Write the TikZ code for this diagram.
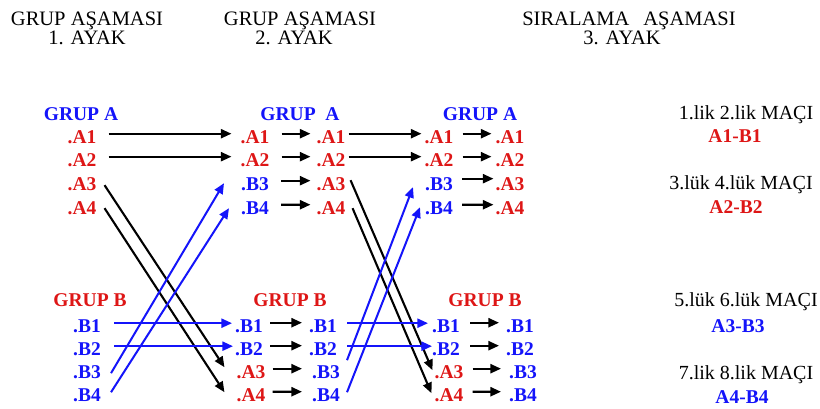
\documentclass[tikz,border=0pt]{standalone}
\usepackage{fontspec}
\setmainfont{Liberation Serif}
\usetikzlibrary{arrows.meta}
\definecolor{tred}{RGB}{222,22,22}
\definecolor{tblue}{RGB}{20,20,250}
\begin{document}
\begin{tikzpicture}[x=1pt,y=-1pt,
  lbl/.style={inner sep=0pt, anchor=base, font=\fontsize{19.5}{22}\selectfont\bfseries},
  ra/.style={lbl, text=tred},
  ba/.style={lbl, text=tblue},
  hdr/.style={inner sep=0pt, anchor=base, font=\fontsize{20.5}{24}\selectfont},
  mac/.style={inner sep=0pt, anchor=base, font=\fontsize{20}{24}\selectfont},
  karr/.style={draw=black, line width=2.1pt, -{Triangle[length=10.5pt,width=9pt]}},
  barr/.style={draw=tblue, line width=2pt, -{Triangle[length=10.5pt,width=9pt]}},
]
\useasboundingbox[fill=white] (0,0) rectangle (820,409);
% headers
\node[hdr] (h1) at (87,26) {GRUP AŞAMASI};
\node[hdr] (h1b) at (87,45) {1. AYAK};
\node[hdr] (h2) at (300,26) {GRUP AŞAMASI};
\node[hdr] (h2b) at (294,45) {2. AYAK};
\node[hdr] (h3) at (629,26) {SIRALAMA\hspace{14pt}AŞAMASI};
\node[hdr] (h3b) at (622,45) {3. AYAK};
% column 1
\node[ba] (ga1) at (81,120.5) {GRUP A};
\node[ra] (a1) at (82,143.5) {.A1};
\node[ra] (a2) at (82,166.5) {.A2};
\node[ra] (a3) at (82,190.5) {.A3};
\node[ra] (a4) at (82,214.5) {.A4};
\node[ra] (gb1) at (90,306.5) {GRUP B};
\node[ba] (b1) at (87,332.5) {.B1};
\node[ba] (b2) at (87,355.5) {.B2};
\node[ba] (b3) at (87,378.5) {.B3};
\node[ba] (b4) at (87,401.5) {.B4};
% column 2
\node[ba] (ga2) at (300,120.5) {GRUP\ \ A};
\node[ra] (c2a1) at (255,143.5) {.A1};
\node[ra] (c2a2) at (255,166.5) {.A2};
\node[ba] (c2b3) at (255,190.5) {.B3};
\node[ba] (c2b4) at (255,214.5) {.B4};
\node[ra] (gb2) at (290,306.5) {GRUP B};
\node[ba] (c2b1) at (249,332.5) {.B1};
\node[ba] (c2b2) at (249,355.5) {.B2};
\node[ra] (c2a3) at (251,378.5) {.A3};
\node[ra] (c2a4) at (251,401.5) {.A4};
% column 3
\node[ra] (c3a1) at (331,143.5) {.A1};
\node[ra] (c3a2) at (331,166.5) {.A2};
\node[ra] (c3a3) at (331,190.5) {.A3};
\node[ra] (c3a4) at (331,214.5) {.A4};
\node[ba] (c3b1) at (323,332.5) {.B1};
\node[ba] (c3b2) at (323,355.5) {.B2};
\node[ba] (c3b3) at (326,378.5) {.B3};
\node[ba] (c3b4) at (326,401.5) {.B4};
% column 4
\node[ba] (ga4) at (480,120.5) {GRUP A};
\node[ra] (c4a1) at (439,143.5) {.A1};
\node[ra] (c4a2) at (439,166.5) {.A2};
\node[ba] (c4b3) at (439,190.5) {.B3};
\node[ba] (c4b4) at (439,214.5) {.B4};
\node[ra] (gb4) at (485,306.5) {GRUP B};
\node[ba] (c4b1) at (446,332.5) {.B1};
\node[ba] (c4b2) at (446,355.5) {.B2};
\node[ra] (c4a3) at (449,378.5) {.A3};
\node[ra] (c4a4) at (449,401.5) {.A4};
% column 5
\node[ra] (c5a1) at (510,143.5) {.A1};
\node[ra] (c5a2) at (510,166.5) {.A2};
\node[ra] (c5a3) at (510,190.5) {.A3};
\node[ra] (c5a4) at (510,214.5) {.A4};
\node[ba] (c5b1) at (520,332.5) {.B1};
\node[ba] (c5b2) at (520,355.5) {.B2};
\node[ba] (c5b3) at (523,378.5) {.B3};
\node[ba] (c5b4) at (523,401.5) {.B4};
% right labels
\node[mac] (m1) at (746,119.5) {1.lik 2.lik MAÇI};
\node[ra] (r1) at (735,142.5) {A1-B1};
\node[mac] (m2) at (741,189.5) {3.lük 4.lük MAÇI};
\node[ra] (r2) at (736,213.5) {A2-B2};
\node[mac] (m3) at (746,306.5) {5.lük 6.lük MAÇI};
\node[ba] (r3) at (738,332.5) {A3-B3};
\node[mac] (m4) at (746,379.5) {7.lik 8.lik MAÇI};
\node[ba] (r4) at (742,403.5) {A4-B4};
% col1 -> col2
\draw[karr, shorten <=12pt, shorten >=9pt] ([yshift=3.5pt]a1.east) -- ([yshift=3.5pt]c2a1.west);
\draw[karr, shorten <=12pt, shorten >=9pt] ([yshift=3.5pt]a2.east) -- ([yshift=3.5pt]c2a2.west);
\draw[karr] ([xshift=8pt,yshift=-1pt]a3.east) -- ([xshift=-12pt,yshift=5pt]c2a3.west);
\draw[karr] ([xshift=8pt]a4.east) -- ([xshift=-12pt,yshift=3pt]c2a4.west);
\draw[barr] ([xshift=10pt,yshift=-1pt]b3.east) -- ([xshift=-17pt,yshift=1pt]c2b3.west);
\draw[barr] ([xshift=10pt,yshift=3pt]b4.east) -- ([xshift=-12pt]c2b4.west);
\draw[barr, shorten <=13pt, shorten >=3pt] ([yshift=3pt]b1.east) -- ([yshift=3pt]c2b1.west);
\draw[barr, shorten <=13pt, shorten >=2pt] ([yshift=3pt]b2.east) -- ([yshift=3pt]c2b2.west);
% col2 -> col3
\draw[karr, shorten <=12pt, shorten >=6pt] ([yshift=3.5pt]c2a1.east) -- ([yshift=3.5pt]c3a1.west);
\draw[karr, shorten <=12pt, shorten >=6pt] ([yshift=3.5pt]c2a2.east) -- ([yshift=3.5pt]c3a2.west);
\draw[karr, shorten <=12pt, shorten >=6pt] ([yshift=3.5pt]c2b3.east) -- ([yshift=3.5pt]c3a3.west);
\draw[karr, shorten <=12pt, shorten >=6pt] ([yshift=3.5pt]c2b4.east) -- ([yshift=3.5pt]c3a4.west);
\draw[karr, shorten <=7pt, shorten >=7pt] ([yshift=3.5pt]c2b1.east) -- ([yshift=3.5pt]c3b1.west);
\draw[karr, shorten <=7pt, shorten >=7pt] ([yshift=3.5pt]c2b2.east) -- ([yshift=3.5pt]c3b2.west);
\draw[karr, shorten <=7pt, shorten >=10pt] ([yshift=3.5pt]c2a3.east) -- ([yshift=3.5pt]c3b3.west);
\draw[karr, shorten <=7pt, shorten >=10pt] ([yshift=3.5pt]c2a4.east) -- ([yshift=3.5pt]c3b4.west);
% col3 -> col4
\draw[karr, shorten <=3pt, shorten >=3pt] ([yshift=3.5pt]c3a1.east) -- ([yshift=3.5pt]c4a1.west);
\draw[karr, shorten <=3pt, shorten >=3pt] ([yshift=3.5pt]c3a2.east) -- ([yshift=3.5pt]c4a2.west);
\draw[karr] ([xshift=5pt,yshift=4pt]c3a3.east) -- ([xshift=-2pt,yshift=2pt]c4a3.west);
\draw[karr] ([xshift=7pt]c3a4.east) -- ([xshift=-3pt,yshift=2pt]c4a4.west);
\draw[barr] ([xshift=7pt,yshift=12pt]c3b3.east) -- ([xshift=-12pt,yshift=-3pt]c4b3.west);
\draw[barr] ([xshift=7pt,yshift=3pt]c3b4.east) -- ([xshift=-5pt,yshift=1pt]c4b4.west);
\draw[barr, shorten <=10pt, shorten >=4pt] ([yshift=3pt]c3b1.east) -- ([yshift=3pt]c4b1.west);
\draw[barr, shorten <=10pt, shorten >=0pt] ([yshift=3pt]c3b2.east) -- ([yshift=3pt]c4b2.west);
% col4 -> col5
\draw[karr, shorten <=9pt, shorten >=4pt] ([yshift=3.5pt]c4a1.east) -- ([yshift=3.5pt]c5a1.west);
\draw[karr, shorten <=9pt, shorten >=4pt] ([yshift=3.5pt]c4a2.east) -- ([yshift=3.5pt]c5a2.west);
\draw[karr, shorten <=9pt, shorten >=2pt] ([yshift=5.5pt]c4b3.east) -- ([yshift=5.5pt]c5a3.west);
\draw[karr, shorten <=9pt, shorten >=2pt] ([yshift=3.5pt]c4b4.east) -- ([yshift=3.5pt]c5a4.west);
\draw[karr, shorten <=10pt, shorten >=7pt] ([yshift=3.5pt]c4b1.east) -- ([yshift=3.5pt]c5b1.west);
\draw[karr, shorten <=10pt, shorten >=7pt] ([yshift=3.5pt]c4b2.east) -- ([yshift=3.5pt]c5b2.west);
\draw[karr, shorten <=9pt, shorten >=8pt] ([yshift=3.5pt]c4a3.east) -- ([yshift=3.5pt]c5b3.west);
\draw[karr, shorten <=9pt, shorten >=8pt] ([yshift=3.5pt]c4a4.east) -- ([yshift=3.5pt]c5b4.west);
\end{tikzpicture}
\end{document}
